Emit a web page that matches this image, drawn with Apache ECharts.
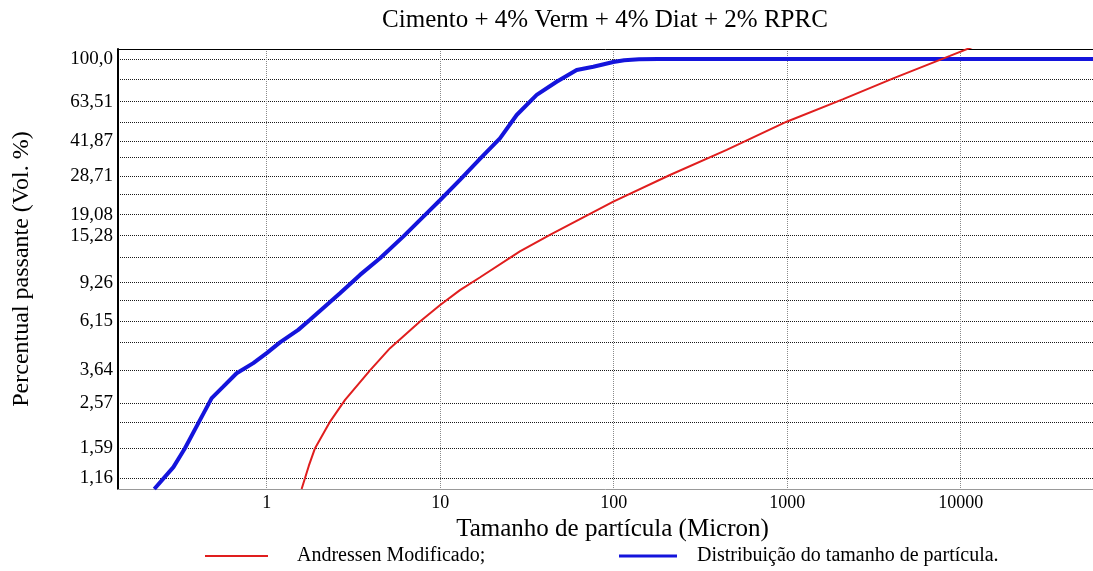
<!DOCTYPE html>
<html>
<head>
<meta charset="utf-8">
<script src="https://cdn.jsdelivr.net/npm/echarts@6/dist/echarts.min.js"></script>
<style>
  html, body { margin: 0; padding: 0; background: #fff; }
  #chart { width: 1093px; height: 571px; }
</style>
</head>
<body>
<div id="chart"></div>
<script>
// ---- data ----
const chartTitle = 'Cimento + 4% Verm + 4% Diat + 2% RPRC';
const seriesNames = ['Andressen Modificado;', 'Distribuição do tamanho de partícula.'];

// Particle size distribution (Micron, % passing)
const sizeDistX = [0.225, 0.29, 0.338, 0.413, 0.482, 0.562, 0.671, 0.837, 1.0, 1.193, 1.52, 1.776, 2.645, 3.45, 4.5, 6.12, 8.0, 10.0, 13.0, 17.0, 22.1, 27.6, 36.0, 46.9, 61.2, 76.3, 99.5, 115, 140, 180, 60000];
const sizeDistY = [1.03, 1.30, 1.59, 2.15, 2.71, 3.06, 3.53, 3.93, 4.37, 4.90, 5.60, 6.23, 8.27, 10.05, 12.0, 15.1, 18.7, 22.3, 27.6, 34.6, 43.0, 55.1, 68.2, 78.5, 89.0, 92.1, 96.8, 98.6, 99.6, 100, 100];

// Modified Andreasen model
const andX = [1.59, 1.75, 1.90, 2.32, 2.83, 3.94, 5.14, 7.65, 10.0, 13.0, 17.0, 28.8, 42.9, 99.5, 211, 448, 993, 2105, 4085, 8670, 12000];
const andY = [1.03, 1.32, 1.59, 2.11, 2.66, 3.64, 4.61, 6.12, 7.3, 8.55, 9.8, 12.9, 15.4, 21.9, 29.1, 38.0, 51.3, 65.2, 81.4, 103.3, 114.6];

// axes
const xTickValues = [1, 10, 100, 1000, 10000];
const xTickLabels = ['1', '10', '100', '1000', '10000'];
const yLabelValues = [1.16, 1.59, 2.57, 3.64, 6.15, 9.26, 15.28, 19.08, 28.71, 41.87, 63.51, 100.0];
const yLabelTexts = ['1,16', '1,59', '2,57', '3,64', '6,15', '9,26', '15,28', '19,08', '28,71', '41,87', '63,51', '100,0'];
const yGridValues = [1.16, 1.59, 2.10, 2.57, 3.64, 4.89, 6.15, 7.65, 9.26, 12.1, 15.28, 19.08, 23.7, 28.71, 35.2, 41.87, 50.8, 63.51, 80.6, 100.0];
const xMin = 0.139, xMax = 57900;
const yMin = 1.03, yMax = 111.2;

function nearestLabel(v, vals, texts) {
  let best = 0, bd = Infinity;
  for (let i = 0; i < vals.length; i++) {
    const d = Math.abs(Math.log(v) - Math.log(vals[i]));
    if (d < bd) { bd = d; best = i; }
  }
  return bd < 0.01 ? texts[best] : '';
}

const serif = '"Liberation Serif", "Times New Roman", serif';
const chart = echarts.init(document.getElementById('chart'), null, { renderer: 'canvas' });

const option = {
  backgroundColor: '#ffffff',
  animation: false,
  title: {
    text: chartTitle,
    left: 605,
    top: 8,
    padding: 0,
    textAlign: 'center',
    textStyle: { fontFamily: serif, fontSize: 25, fontWeight: 'normal', color: '#000' }
  },
  legend: [
    {
      data: [seriesNames[0]],
      left: 205, top: 546,
      icon: 'rect', itemWidth: 63, itemHeight: 2, itemGap: 0,
      selectedMode: false, padding: 0,
      textStyle: { fontFamily: serif, fontSize: 20, color: '#000', padding: [0, 0, 0, 24] }
    },
    {
      data: [seriesNames[1]],
      left: 619, top: 546,
      icon: 'rect', itemWidth: 58, itemHeight: 3, itemGap: 0,
      selectedMode: false, padding: 0,
      textStyle: { fontFamily: serif, fontSize: 20, color: '#000', padding: [0, 0, 0, 15] }
    }
  ],
  grid: { left: 118, right: 0, top: 49, bottom: 82, containLabel: false },
  xAxis: [
    {
      type: 'log', logBase: 10, min: xMin, max: xMax,
      name: 'Tamanho de partícula (Micron)',
      nameLocation: 'middle', nameGap: 25,
      nameTextStyle: { fontFamily: serif, fontSize: 25, color: '#000', padding: [0, 0, 0, 14] },
      axisLine: { show: true, onZero: false, lineStyle: { color: '#999', width: 1 } },
      axisTick: { show: false, customValues: xTickValues },
      axisLabel: {
        customValues: xTickValues,
        margin: 5,
        fontFamily: serif, fontSize: 18, color: '#000',
        formatter: v => nearestLabel(v, xTickValues, xTickLabels)
      },
      splitLine: { show: true, lineStyle: { type: [1, 1], color: '#8a8a8a', width: 1 } }
    },
    {
      type: 'log', logBase: 10, min: xMin, max: xMax, position: 'top',
      axisLine: { show: true, onZero: false, lineStyle: { color: '#000', width: 1 } },
      axisTick: { show: false }, axisLabel: { show: false }, splitLine: { show: false }
    }
  ],
  yAxis: {
    type: 'log', logBase: 10, min: yMin, max: yMax,
    name: 'Percentual passante (Vol. %)',
    nameLocation: 'middle', nameGap: 84,
    nameTextStyle: { fontFamily: serif, fontSize: 24, color: '#000' },
    axisLine: { show: true, onZero: false, lineStyle: { color: '#000', width: 2 } },
    axisTick: { show: false, customValues: yGridValues },
    axisLabel: {
      customValues: yLabelValues,
      margin: 5,
      fontFamily: serif, fontSize: 19, color: '#000',
      formatter: v => nearestLabel(v, yLabelValues, yLabelTexts)
    },
    splitLine: { show: true, lineStyle: { type: [1, 1], color: '#1a1a1a', width: 1 } }
  },
  series: [
    {
      name: seriesNames[1],
      type: 'line',
      data: sizeDistX.map((x, i) => [x, sizeDistY[i]]),
      showSymbol: false, symbol: 'none',
      clip: true,
      itemStyle: { color: '#1414dc' },
      lineStyle: { color: '#1414dc', width: 4 },
      z: 3
    },
    {
      name: seriesNames[0],
      type: 'line',
      data: andX.map((x, i) => [x, andY[i]]),
      showSymbol: false, symbol: 'none',
      clip: true,
      itemStyle: { color: '#e01e1e' },
      lineStyle: { color: '#e01e1e', width: 2 },
      z: 4
    }
  ]
};
chart.setOption(option);
</script>
</body>
</html>
